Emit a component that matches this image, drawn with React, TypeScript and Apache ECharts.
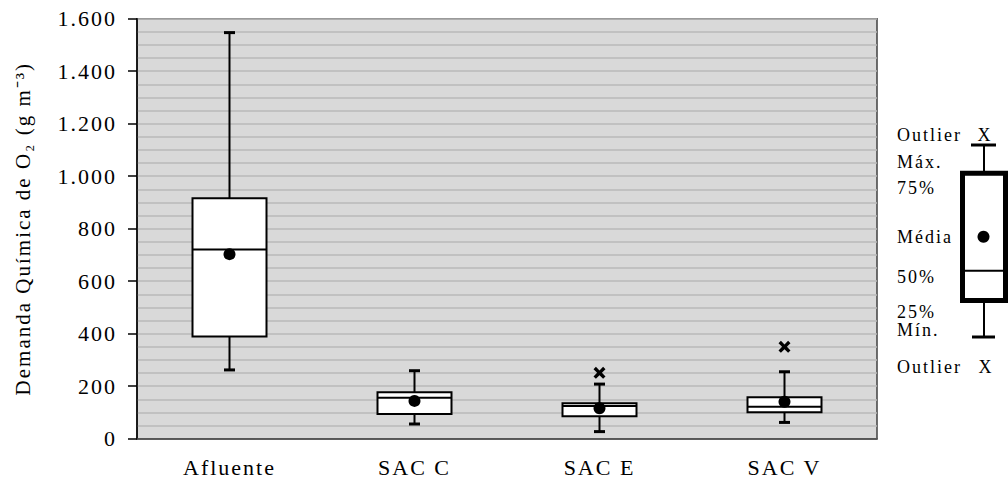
import React, { useEffect, useRef } from "react";
import * as echarts from "echarts";

// Chemical oxygen demand per sampling point (g m-3)
const categories = ["Afluente", "SAC C", "SAC E", "SAC V"];
const minimos = [262, 56, 27, 62];
const quartil1 = [389, 94, 86, 101];
const medianas = [721, 156, 125, 122];
const quartil3 = [916, 177, 135, 158];
const maximos = [1547, 259, 208, 255];
const medias = [703, 144, 116, 141];
const outliers: [number, number][] = [
  [2, 251],
  [3, 350],
];
const yTicks = { min: 0, max: 1600, interval: 200 };

const SERIF = "Liberation Serif";

const fmtThousands = (v: number) =>
  v >= 1000 ? `${Math.floor(v / 1000)}.${String(v % 1000).padStart(3, "0")}` : String(v);

const crossPath =
  "path://M2,0 L5,3 L8,0 L10,2 L7,5 L10,8 L8,10 L5,7 L2,10 L0,8 L3,5 L0,2 Z";

function legendGraphic() {
  const txt = (text: string, y: number, x = 897, align: "left" | "center" = "left") => ({
    type: "text",
    x,
    y,
    style: {
      text,
      fill: "#000",
      fontFamily: SERIF,
      fontSize: 18,
      align,
      verticalAlign: "middle",
    },
  });
  const ln = (x1: number, y1: number, x2: number, y2: number, w: number) => ({
    type: "line",
    shape: { x1, y1, x2, y2 },
    style: { stroke: "#000", lineWidth: w },
  });
  return [
    txt("Outlier", 135),
    txt("X", 135, 985, "center"),
    txt("Máx.", 162),
    txt("75%", 188),
    txt("Média", 237),
    txt("50%", 277),
    txt("25%", 312),
    txt("Mín.", 330),
    txt("Outlier", 367),
    txt("X", 367, 986, "center"),
    ln(984, 145, 984, 173, 2),
    ln(971, 145, 996, 145, 3),
    ln(984, 300, 984, 337, 2),
    ln(972, 337, 995, 337, 3),
    {
      type: "rect",
      shape: { x: 962.5, y: 173.3, width: 43, height: 127.2 },
      style: { fill: "#fff", stroke: "#000", lineWidth: 5 },
    },
    ln(962.5, 270.7, 1005.5, 270.7, 2),
    {
      type: "circle",
      shape: { cx: 983.5, cy: 236.7, r: 6 },
      style: { fill: "#000" },
    },
  ];
}

export default function App() {
  const ref = useRef<HTMLDivElement>(null);

  useEffect(() => {
    if (!ref.current) return;
    const chart = echarts.init(ref.current, null, { renderer: "svg" });

    const boxData = categories.map((_, i) => [
      i,
      minimos[i],
      quartil1[i],
      medianas[i],
      quartil3[i],
      maximos[i],
    ]);

    chart.setOption({
      animation: false,
      backgroundColor: "#fff",
      textStyle: { fontFamily: SERIF },
      grid: {
        left: 137,
        top: 18.7,
        width: 740,
        height: 420,
        show: true,
        backgroundColor: "#d9d9d9",
        borderColor: "#404040",
        borderWidth: 1.5,
      },
      xAxis: {
        type: "category",
        data: categories,
        boundaryGap: true,
        axisLine: { lineStyle: { color: "#404040", width: 1.5 } },
        axisTick: { show: false },
        splitLine: { show: false },
        axisLabel: {
          color: "#000",
          fontFamily: SERIF,
          fontSize: 22,
          margin: 18,
        },
      },
      yAxis: {
        type: "value",
        min: yTicks.min,
        max: yTicks.max,
        interval: yTicks.interval,
        name: "Demanda Química de O₂ (g m⁻³)",
        nameLocation: "middle",
        nameGap: 104,
        nameTextStyle: { color: "#000", fontFamily: SERIF, fontSize: 21 },
        axisLine: { show: true, lineStyle: { color: "#000", width: 1.5 } },
        axisTick: { show: true, length: 9, lineStyle: { color: "#000", width: 1.5 } },
        minorTick: { show: false, splitNumber: 4 },
        splitLine: { show: true, lineStyle: { color: "#b8b8b8", width: 1.5 } },
        minorSplitLine: { show: true, lineStyle: { color: "#b8b8b8", width: 1.5 } },
        axisLabel: {
          color: "#000",
          fontFamily: SERIF,
          fontSize: 22,
          margin: 20,
          formatter: (v: number) => fmtThousands(v),
        },
      },
      graphic: legendGraphic(),
      series: [
        {
          type: "custom",
          z: 2,
          data: boxData,
          encode: { x: 0, y: [1, 2, 3, 4, 5] },
          renderItem: (_params: any, api: any) => {
            const i = api.value(0);
            const x = api.coord([i, api.value(1)])[0];
            const yMin = api.coord([i, api.value(1)])[1];
            const yQ1 = api.coord([i, api.value(2)])[1];
            const yMed = api.coord([i, api.value(3)])[1];
            const yQ3 = api.coord([i, api.value(4)])[1];
            const yMax = api.coord([i, api.value(5)])[1];
            const band = api.size([1, 0])[0];
            const bw = band * 0.4;
            const cap = 11;
            const stroke = { stroke: "#000", lineWidth: 2 };
            return {
              type: "group",
              children: [
                { type: "line", shape: { x1: x, y1: yQ3, x2: x, y2: yMax }, style: stroke },
                {
                  type: "line",
                  shape: { x1: x - cap / 2, y1: yMax, x2: x + cap / 2, y2: yMax },
                  style: { stroke: "#000", lineWidth: 3 },
                },
                { type: "line", shape: { x1: x, y1: yQ1, x2: x, y2: yMin }, style: stroke },
                {
                  type: "line",
                  shape: { x1: x - cap / 2, y1: yMin, x2: x + cap / 2, y2: yMin },
                  style: { stroke: "#000", lineWidth: 3 },
                },
                {
                  type: "rect",
                  shape: { x: x - bw / 2, y: yQ3, width: bw, height: yQ1 - yQ3 },
                  style: { fill: "#fff", stroke: "#000", lineWidth: 2 },
                },
                {
                  type: "line",
                  shape: { x1: x - bw / 2, y1: yMed, x2: x + bw / 2, y2: yMed },
                  style: stroke,
                },
              ],
            };
          },
        },
        {
          type: "scatter",
          z: 3,
          symbol: "circle",
          symbolSize: 12,
          itemStyle: { color: "#000", opacity: 1 },
          data: medias.map((v, i) => [i, v]),
        },
        {
          type: "scatter",
          z: 3,
          symbol: crossPath,
          symbolSize: 12,
          itemStyle: { color: "#000", opacity: 1 },
          data: outliers,
        },
      ],
    });

    return () => chart.dispose();
  }, []);

  return (
    <>
      <style>{`#root svg text { letter-spacing: 2px; }`}</style>
      <div
        ref={ref}
        style={{ position: "fixed", left: 0, top: 0, width: 1008, height: 484 }}
      />
    </>
  );
}
